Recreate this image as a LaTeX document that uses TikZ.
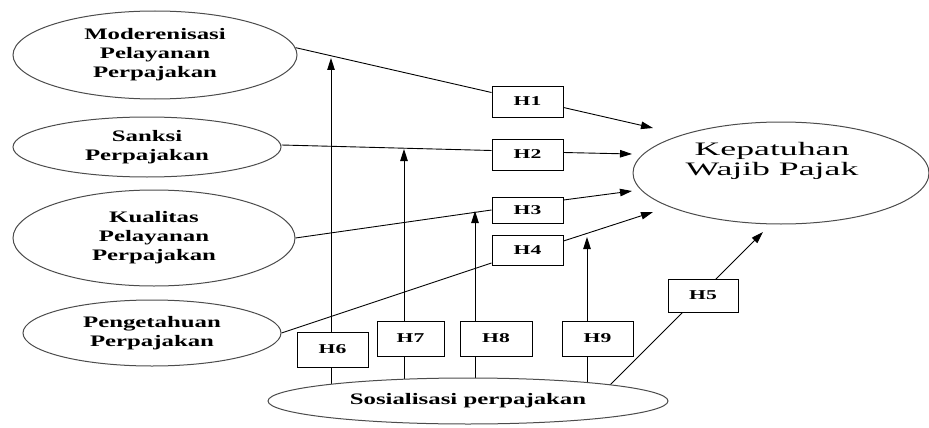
\documentclass[tikz,border=0pt]{standalone}
\usepackage{fontspec}
\setmainfont{Liberation Serif}
\newfontfamily\elfont[FakeStretch=1.55]{Liberation Serif}
\newfontfamily\kepfont[FakeStretch=1.88]{Liberation Serif}
\newfontfamily\hfont[FakeStretch=1.6]{Liberation Serif}
\usetikzlibrary{shapes.geometric,arrows.meta}
\pgfdeclarelayer{bg}
\pgfsetlayers{bg,main}
\begin{document}
\begin{tikzpicture}[x=1pt,y=-1pt,
  ell/.style={ellipse, draw=black!70, line width=1pt, fill=white, inner sep=0pt, align=center,
    font=\elfont\bfseries\fontsize{16}{19}\selectfont},
  hbox/.style={rectangle, draw=black, line width=1pt, fill=white, inner sep=0pt,
    font=\hfont\bfseries\fontsize{13.5}{15}\selectfont},
  conn/.style={draw=black, line width=0.9pt},
  arr/.style={conn, -{Triangle[length=12pt,width=7.5pt]}}
]
\useasboundingbox (0,0) rectangle (929,428);

% ellipses
\node[ell, minimum width=284pt, minimum height=88pt] (mod) at (155,55) {Moderenisasi\\Pelayanan\\Perpajakan};
\node[ell, minimum width=268pt, minimum height=60pt] (san) at (147,147) {Sanksi\\Perpajakan};
\node[ell, minimum width=282pt, minimum height=96pt] (kua) at (154,238) {Kualitas\\Pelayanan\\Perpajakan};
\node[ell, minimum width=258pt, minimum height=66pt] (pen) at (152,333) {Pengetahuan\\Perpajakan};
\node[ell, minimum width=400pt, minimum height=46pt] (sos) at (468,401) {Sosialisasi perpajakan};
\node[ell, minimum width=296pt, minimum height=102pt] (kep) at (781,173) {};
\node[align=center, inner sep=0pt, font=\kepfont\fontsize{19}{20}\selectfont] (keptext) at (772,161) {Kepatuhan\\Wajib Pajak};

% hypothesis boxes
\node[hbox, minimum width=71pt, minimum height=31pt] (h1) at (527.5,101.5) {H1};
\node[hbox, minimum width=71pt, minimum height=31pt] (h2) at (527.5,154.5) {H2};
\node[hbox, minimum width=71pt, minimum height=26pt] (h3) at (527.5,210) {H3};
\node[hbox, minimum width=71pt, minimum height=30pt] (h4) at (527.5,250) {H4};
\node[hbox, minimum width=70pt, minimum height=33pt] (h5) at (703,295.5) {H5};
\node[hbox, minimum width=71pt, minimum height=35pt] (h6) at (332.5,349.5) {H6};
\node[hbox, minimum width=67pt, minimum height=35pt] (h7) at (410.5,338.5) {H7};
\node[hbox, minimum width=72pt, minimum height=35pt] (h8) at (496,338.5) {H8};
\node[hbox, minimum width=71pt, minimum height=35pt] (h9) at (597.5,338.5) {H9};

% free ends
\coordinate (t6) at (331,58);
\coordinate (t7) at (404,149);
\coordinate (t8) at (475,211);
\coordinate (t9) at (587,237);
\coordinate (a1) at (653,128);
\coordinate (a2) at (632,154);
\coordinate (a3) at (632,191);
\coordinate (a4) at (653,212);
\coordinate (a5) at (763,232);
\coordinate (s5) at (600,395);

\begin{pgfonlayer}{bg}
\draw[conn] (mod.3) -- ([yshift=9pt]h1.west);
\draw[arr] ([yshift=-6pt]h1.east) -- (a1);
\draw[conn] ([yshift=2pt]san.east) -- ([yshift=4pt]h2.west);
\draw[arr] ([yshift=2pt]h2.east) -- (a2);
\draw[conn] (kua.east) -- (h3.west);
\draw[arr] ([yshift=10pt]h3.east) -- (a3);
\draw[conn] (pen.east) -- ([yshift=-13pt]h4.west);
\draw[arr] ([yshift=9pt]h4.east) -- (a4);
\draw[arr] (s5) -- (a5);
\draw[arr] (t6 |- sos.center) -- (t6);
\draw[arr] (t7 |- sos.center) -- (t7);
\draw[arr] (t8 |- sos.center) -- (t8);
\draw[arr] (t9 |- sos.center) -- (t9);
\end{pgfonlayer}
\end{tikzpicture}
\end{document}
